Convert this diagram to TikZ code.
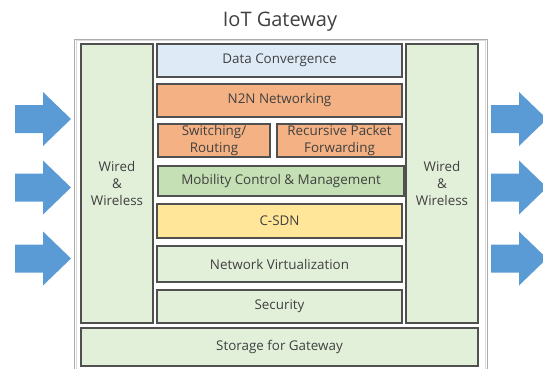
\documentclass[tikz,border=0pt]{standalone}
\usepackage{fontspec}
\setmainfont{Open Sans}
\definecolor{txt}{HTML}{404040}
\definecolor{arrowblue}{HTML}{5B9BD5}
\definecolor{lblue}{HTML}{DEEBF7}
\definecolor{orng}{HTML}{F4B183}
\definecolor{mgreen}{HTML}{C5E0B4}
\definecolor{ylw}{HTML}{FFE699}
\definecolor{lgreen}{HTML}{E2F0D9}
\definecolor{bord}{HTML}{505050}
\newcommand\gwarrow[2]{%
  \fill[arrowblue] (#1,#2-14) -- (#1+28,#2-14) -- (#1+28,#2-27) -- (#1+56,#2)
    -- (#1+28,#2+27) -- (#1+28,#2+14) -- (#1,#2+14) -- cycle;}
\begin{document}
\begin{tikzpicture}[x=1pt,y=-1pt,
  box/.style={draw=bord, line width=1.2pt, inner sep=0pt, text=txt,
    font=\fontsize{13.4}{16.7}\selectfont, align=center}]
\useasboundingbox (0,0) rectangle (543,369);
\clip (0,0) rectangle (543,369);
% title
\node[text=txt, font=\fontsize{20}{22}\selectfont] (title) at (280,22) {IoT Gateway};
% outer frame
\draw[gray!65, line width=0.9pt] (74,39) rectangle (487,380);
\draw[gray!30, line width=0.6pt] (75.8,40.8) rectangle (485.2,380);
% side columns
\node[box, fill=lgreen, minimum width=72pt, minimum height=279pt] (lcol) at (117,183.5) {Wired\\\&\\Wireless};
\node[box, fill=lgreen, minimum width=72pt, minimum height=279pt] (rcol) at (442,183.5) {Wired\\\&\\Wireless};
% middle stack
\node[box, fill=lblue, minimum width=245pt, minimum height=33pt] (dc) at (279.5,60.5) {Data Convergence};
\node[box, fill=orng, minimum width=245pt, minimum height=33pt] (n2n) at (279.5,100.5) {N2N Networking};
\node[box, fill=orng, minimum width=112pt, minimum height=33pt] (sw) at (214,140.5) {Switching/\\Routing};
\node[box, fill=orng, minimum width=125pt, minimum height=33pt] (rpf) at (339.5,140.5) {Recursive Packet\\Forwarding};
\node[box, fill=mgreen, minimum width=246pt, minimum height=30pt] (mob) at (281,181) {Mobility Control \& Management};
\node[box, fill=ylw, minimum width=245pt, minimum height=34pt] (csdn) at (279.5,221) {C-SDN};
\node[box, fill=lgreen, minimum width=245pt, minimum height=36pt] (nv) at (279.5,264) {Network Virtualization};
\node[box, fill=lgreen, minimum width=245pt, minimum height=33pt] (sec) at (279.5,306.5) {Security};
\node[box, fill=lgreen, minimum width=397pt, minimum height=38pt] (stor) at (279.5,347) {Storage for Gateway};
% arrows
\gwarrow{15}{119}
\gwarrow{15}{187.5}
\gwarrow{15}{258.5}
\gwarrow{491}{119}
\gwarrow{491}{187.5}
\gwarrow{491}{258.5}
\end{tikzpicture}
\end{document}
